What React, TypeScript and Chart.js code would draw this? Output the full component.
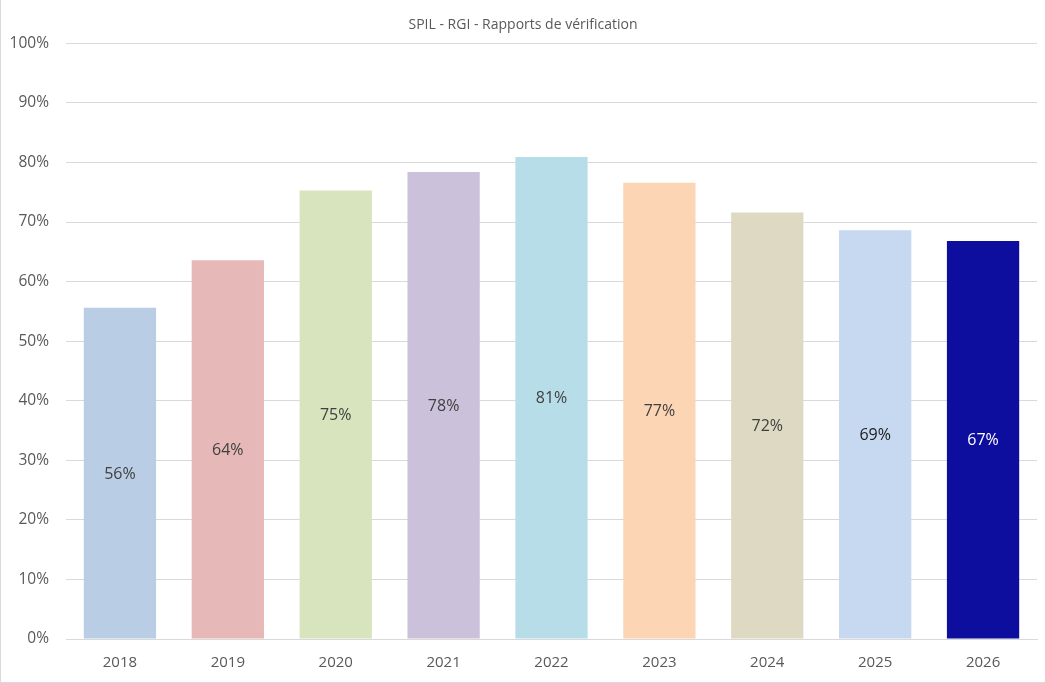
import { useEffect, useRef } from "react"
import { Chart, registerables } from "chart.js"

Chart.register(...registerables)

const years = ["2018", "2019", "2020", "2021", "2022", "2023", "2024", "2025", "2026"]
const rates = [0.556, 0.636, 0.753, 0.784, 0.809, 0.766, 0.716, 0.686, 0.668]
const barColors = ["#B9CDE5", "#E6B9B8", "#D7E4BD", "#CCC1DA", "#B7DEE8", "#FCD5B5", "#DDD9C3", "#C6D9F1", "#0E0E9E"]
const labelColors = ["#404040", "#404040", "#404040", "#404040", "#404040", "#404040", "#404040", "#1a1a1a", "#ffffff"]

const FONT = "'Open Sans', 'Noto Sans', sans-serif"

// draws the percentage in the middle of each bar
const barLabels = {
  id: "barLabels",
  afterDatasetsDraw(chart: any) {
    const ctx = chart.ctx
    const meta = chart.getDatasetMeta(0)
    ctx.save()
    ctx.font = `16px ${FONT}`
    ctx.textAlign = "center"
    ctx.textBaseline = "middle"
    meta.data.forEach((bar: any, i: number) => {
      const v = chart.data.datasets[0].data[i] as number
      ctx.fillStyle = labelColors[i]
      ctx.fillText(Math.round(v * 100) + "%", bar.x, (bar.y + bar.base) / 2 + 1)
    })
    ctx.restore()
  },
}

export default function App() {
  const chartRef = useRef<HTMLCanvasElement>(null)
  const chartInstance = useRef<Chart | null>(null)

  useEffect(() => {
    if (!chartRef.current) return
    if (chartInstance.current) chartInstance.current.destroy()

    const ctx = chartRef.current.getContext("2d")
    if (!ctx) return

    chartInstance.current = new Chart(ctx, {
      type: "bar",
      data: {
        labels: years,
        datasets: [
          {
            data: rates,
            backgroundColor: barColors,
            categoryPercentage: 0.67,
            barPercentage: 1,
          },
        ],
      },
      options: {
        animation: false,
        responsive: true,
        maintainAspectRatio: false,
        layout: { padding: { left: 8, right: 8, top: 0, bottom: 3 } },
        plugins: {
          legend: { display: false },
          tooltip: { enabled: false },
          title: {
            display: true,
            text: "SPIL - RGI - Rapports de vérification",
            color: "#595959",
            font: { family: FONT, size: 14, weight: "normal" },
            padding: { top: 17, bottom: 9.5 },
          },
        },
        scales: {
          x: {
            grid: { display: false },
            border: { display: true, color: "#D9D9D9" },
            ticks: {
              color: "#595959",
              font: { family: FONT, size: 15 },
              padding: 7,
            },
          },
          y: {
            min: 0,
            max: 1,
            border: { display: false },
            grid: { color: "#D9D9D9", drawTicks: false },
            afterFit: (scale: any) => {
              scale.width = 57
            },
            ticks: {
              stepSize: 0.1,
              color: "#595959",
              font: { family: FONT, size: 15.5 },
              padding: 17,
              callback: (v: any) => Math.round(Number(v) * 100) + "%",
            },
          },
        },
      },
      plugins: [barLabels],
    })

    return () => {
      if (chartInstance.current) {
        chartInstance.current.destroy()
        chartInstance.current = null
      }
    }
  }, [])

  return (
    <div
      style={{
        position: "absolute",
        top: 0,
        left: 0,
        width: 1045,
        height: 683,
        boxSizing: "border-box",
        borderLeft: "1px solid #D9D9D9",
        borderBottom: "1px solid #D9D9D9",
        background: "#fff",
      }}
    >
      <canvas ref={chartRef}></canvas>
    </div>
  )
}
